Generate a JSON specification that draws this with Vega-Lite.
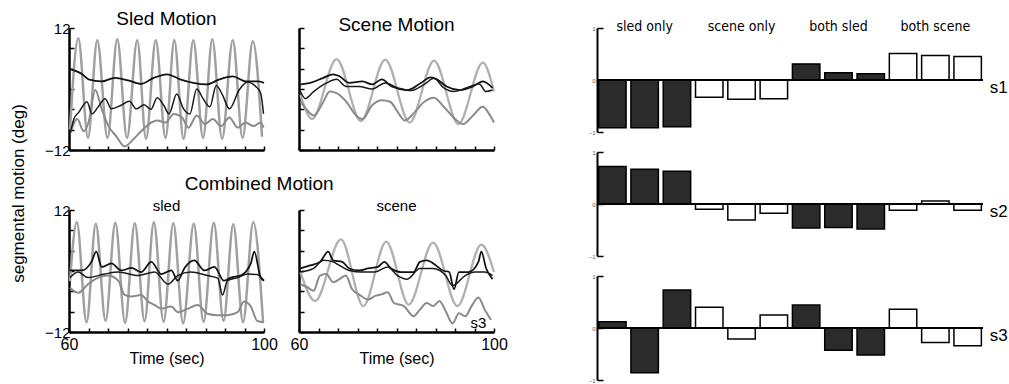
{
"$schema":"https://vega.github.io/schema/vega-lite/v6.json",
"padding":{"left":8,"top":9,"right":5,"bottom":2},
"spacing":80,
"datasets":{
"lines":[
{"p":"A","s":"input","t":60.2,"v":-8.0},{"p":"A","s":"input","t":61.9,"v":10.0},{"p":"A","s":"input","t":63.9,"v":-9.6},{"p":"A","s":"input","t":65.8,"v":9.6},{"p":"A","s":"input","t":67.9,"v":-9.6},{"p":"A","s":"input","t":69.9,"v":9.8},{"p":"A","s":"input","t":71.9,"v":-9.6},{"p":"A","s":"input","t":74.0,"v":9.6},{"p":"A","s":"input","t":75.8,"v":-9.8},{"p":"A","s":"input","t":77.8,"v":9.6},{"p":"A","s":"input","t":79.8,"v":-9.6},{"p":"A","s":"input","t":81.6,"v":9.6},{"p":"A","s":"input","t":83.5,"v":-9.8},{"p":"A","s":"input","t":85.5,"v":9.6},{"p":"A","s":"input","t":87.5,"v":-9.6},{"p":"A","s":"input","t":89.4,"v":9.8},{"p":"A","s":"input","t":91.4,"v":-9.8},{"p":"A","s":"input","t":93.6,"v":9.6},{"p":"A","s":"input","t":95.6,"v":-9.6},{"p":"A","s":"input","t":97.7,"v":9.4},{"p":"A","s":"input","t":99.6,"v":-9.4},
{"p":"A","s":"gray","t":60.3,"v":-8.6},{"p":"A","s":"gray","t":61.7,"v":-5.9},{"p":"A","s":"gray","t":63.0,"v":-8.3},{"p":"A","s":"gray","t":64.0,"v":-6.6},{"p":"A","s":"gray","t":65.4,"v":-0.2},{"p":"A","s":"gray","t":66.7,"v":-3.9},{"p":"A","s":"gray","t":68.1,"v":-7.3},{"p":"A","s":"gray","t":69.7,"v":-9.3},{"p":"A","s":"gray","t":71.4,"v":-11.3},{"p":"A","s":"gray","t":73.1,"v":-10.0},{"p":"A","s":"gray","t":74.8,"v":-8.3},{"p":"A","s":"gray","t":76.4,"v":-6.9},{"p":"A","s":"gray","t":78.1,"v":-6.2},{"p":"A","s":"gray","t":79.8,"v":-6.6},{"p":"A","s":"gray","t":81.5,"v":-4.9},{"p":"A","s":"gray","t":83.2,"v":-5.6},{"p":"A","s":"gray","t":84.5,"v":-7.6},{"p":"A","s":"gray","t":86.2,"v":-5.2},{"p":"A","s":"gray","t":87.9,"v":-6.9},{"p":"A","s":"gray","t":89.5,"v":-5.9},{"p":"A","s":"gray","t":91.2,"v":-7.3},{"p":"A","s":"gray","t":92.9,"v":-5.6},{"p":"A","s":"gray","t":94.6,"v":-7.6},{"p":"A","s":"gray","t":96.2,"v":-6.6},{"p":"A","s":"gray","t":97.9,"v":-7.3},{"p":"A","s":"gray","t":99.3,"v":-6.6},{"p":"A","s":"gray","t":99.9,"v":-7.6},
{"p":"A","s":"black1","t":60.3,"v":3.9},{"p":"A","s":"black1","t":62.7,"v":2.9},{"p":"A","s":"black1","t":64.0,"v":1.9},{"p":"A","s":"black1","t":66.7,"v":1.5},{"p":"A","s":"black1","t":69.4,"v":2.2},{"p":"A","s":"black1","t":72.1,"v":1.7},{"p":"A","s":"black1","t":74.8,"v":1.0},{"p":"A","s":"black1","t":77.4,"v":2.2},{"p":"A","s":"black1","t":80.1,"v":2.9},{"p":"A","s":"black1","t":82.8,"v":1.9},{"p":"A","s":"black1","t":85.5,"v":1.2},{"p":"A","s":"black1","t":88.2,"v":0.9},{"p":"A","s":"black1","t":90.9,"v":1.9},{"p":"A","s":"black1","t":93.6,"v":2.5},{"p":"A","s":"black1","t":96.2,"v":1.5},{"p":"A","s":"black1","t":98.9,"v":1.5},{"p":"A","s":"black1","t":100,"v":1.2},
{"p":"A","s":"black2","t":60.3,"v":-8.6},{"p":"A","s":"black2","t":61.0,"v":-5.9},{"p":"A","s":"black2","t":62.0,"v":-4.6},{"p":"A","s":"black2","t":63.7,"v":-2.5},{"p":"A","s":"black2","t":64.7,"v":-4.9},{"p":"A","s":"black2","t":66.0,"v":-3.5},{"p":"A","s":"black2","t":67.4,"v":-1.9},{"p":"A","s":"black2","t":68.7,"v":-3.9},{"p":"A","s":"black2","t":70.7,"v":-3.2},{"p":"A","s":"black2","t":72.4,"v":-2.4},{"p":"A","s":"black2","t":73.8,"v":-3.9},{"p":"A","s":"black2","t":75.4,"v":-3.1},{"p":"A","s":"black2","t":76.8,"v":-4.0},{"p":"A","s":"black2","t":78.1,"v":-1.7},{"p":"A","s":"black2","t":79.5,"v":-3.3},{"p":"A","s":"black2","t":80.5,"v":-4.9},{"p":"A","s":"black2","t":82.1,"v":-1.0},{"p":"A","s":"black2","t":83.5,"v":-3.9},{"p":"A","s":"black2","t":84.8,"v":-4.9},{"p":"A","s":"black2","t":86.2,"v":0.0},{"p":"A","s":"black2","t":87.5,"v":-1.9},{"p":"A","s":"black2","t":88.9,"v":-3.5},{"p":"A","s":"black2","t":90.2,"v":0.7},{"p":"A","s":"black2","t":91.5,"v":-1.2},{"p":"A","s":"black2","t":92.9,"v":-3.9},{"p":"A","s":"black2","t":94.9,"v":-0.2},{"p":"A","s":"black2","t":96.6,"v":1.4},{"p":"A","s":"black2","t":98.3,"v":0.5},{"p":"A","s":"black2","t":99.3,"v":-0.8},{"p":"A","s":"black2","t":99.9,"v":-4.9},
{"p":"B","s":"input2","t":60.3,"v":-1.2},{"p":"B","s":"input2","t":62.7,"v":-5.9},{"p":"B","s":"input2","t":67.7,"v":5.9},{"p":"B","s":"input2","t":72.7,"v":-6.3},{"p":"B","s":"input2","t":77.7,"v":5.8},{"p":"B","s":"input2","t":82.7,"v":-6.6},{"p":"B","s":"input2","t":87.7,"v":5.6},{"p":"B","s":"input2","t":92.7,"v":-6.9},{"p":"B","s":"input2","t":97.7,"v":5.2},{"p":"B","s":"input2","t":100,"v":-0.5},
{"p":"B","s":"gray","t":60.3,"v":-2.5},{"p":"B","s":"gray","t":61.7,"v":-4.2},{"p":"B","s":"gray","t":63.0,"v":-5.2},{"p":"B","s":"gray","t":65.0,"v":-2.5},{"p":"B","s":"gray","t":66.3,"v":-0.5},{"p":"B","s":"gray","t":67.7,"v":-0.8},{"p":"B","s":"gray","t":69.7,"v":-2.5},{"p":"B","s":"gray","t":71.7,"v":-5.2},{"p":"B","s":"gray","t":73.0,"v":-5.9},{"p":"B","s":"gray","t":75.0,"v":-3.2},{"p":"B","s":"gray","t":77.0,"v":-2.2},{"p":"B","s":"gray","t":78.7,"v":-2.5},{"p":"B","s":"gray","t":80.3,"v":-4.6},{"p":"B","s":"gray","t":81.7,"v":-6.2},{"p":"B","s":"gray","t":83.7,"v":-4.6},{"p":"B","s":"gray","t":85.7,"v":-2.5},{"p":"B","s":"gray","t":87.7,"v":-1.7},{"p":"B","s":"gray","t":89.7,"v":-3.5},{"p":"B","s":"gray","t":91.7,"v":-5.6},{"p":"B","s":"gray","t":93.7,"v":-6.9},{"p":"B","s":"gray","t":95.7,"v":-5.2},{"p":"B","s":"gray","t":97.7,"v":-3.5},{"p":"B","s":"gray","t":99.0,"v":-4.9},{"p":"B","s":"gray","t":100,"v":-6.6},
{"p":"B","s":"black1","t":60.3,"v":0.9},{"p":"B","s":"black1","t":62.3,"v":1.2},{"p":"B","s":"black1","t":65.0,"v":2.2},{"p":"B","s":"black1","t":67.0,"v":2.9},{"p":"B","s":"black1","t":68.3,"v":2.5},{"p":"B","s":"black1","t":70.3,"v":1.2},{"p":"B","s":"black1","t":73.0,"v":1.5},{"p":"B","s":"black1","t":75.0,"v":0.9},{"p":"B","s":"black1","t":77.0,"v":1.9},{"p":"B","s":"black1","t":79.0,"v":0.5},{"p":"B","s":"black1","t":82.3,"v":-0.2},{"p":"B","s":"black1","t":85.0,"v":1.2},{"p":"B","s":"black1","t":87.0,"v":2.3},{"p":"B","s":"black1","t":88.3,"v":1.9},{"p":"B","s":"black1","t":90.3,"v":0.5},{"p":"B","s":"black1","t":93.0,"v":-0.2},{"p":"B","s":"black1","t":95.7,"v":0.5},{"p":"B","s":"black1","t":97.7,"v":1.5},{"p":"B","s":"black1","t":99.7,"v":0.2},
{"p":"B","s":"black2","t":60.3,"v":-0.5},{"p":"B","s":"black2","t":61.3,"v":-1.9},{"p":"B","s":"black2","t":63.0,"v":-0.5},{"p":"B","s":"black2","t":65.7,"v":1.2},{"p":"B","s":"black2","t":67.7,"v":1.9},{"p":"B","s":"black2","t":69.7,"v":0.5},{"p":"B","s":"black2","t":72.3,"v":0.5},{"p":"B","s":"black2","t":75.0,"v":0.0},{"p":"B","s":"black2","t":77.7,"v":1.2},{"p":"B","s":"black2","t":80.3,"v":0.2},{"p":"B","s":"black2","t":83.0,"v":-0.3},{"p":"B","s":"black2","t":85.7,"v":0.9},{"p":"B","s":"black2","t":87.7,"v":2.1},{"p":"B","s":"black2","t":89.7,"v":0.2},{"p":"B","s":"black2","t":91.7,"v":-0.5},{"p":"B","s":"black2","t":94.3,"v":0.2},{"p":"B","s":"black2","t":97.0,"v":1.0},{"p":"B","s":"black2","t":98.3,"v":-0.5},{"p":"B","s":"black2","t":99.7,"v":-0.2},
{"p":"C","s":"input","t":60.2,"v":-2.0},{"p":"C","s":"input","t":61.6,"v":9.6},{"p":"C","s":"input","t":63.6,"v":-10.1},{"p":"C","s":"input","t":65.5,"v":9.3},{"p":"C","s":"input","t":67.5,"v":-9.8},{"p":"C","s":"input","t":69.5,"v":9.5},{"p":"C","s":"input","t":71.5,"v":-10.2},{"p":"C","s":"input","t":73.5,"v":9.4},{"p":"C","s":"input","t":75.5,"v":-9.9},{"p":"C","s":"input","t":77.4,"v":9.6},{"p":"C","s":"input","t":79.4,"v":-10.0},{"p":"C","s":"input","t":81.4,"v":9.4},{"p":"C","s":"input","t":83.4,"v":-10.3},{"p":"C","s":"input","t":85.6,"v":9.3},{"p":"C","s":"input","t":87.6,"v":-10.0},{"p":"C","s":"input","t":89.7,"v":9.5},{"p":"C","s":"input","t":91.7,"v":-9.8},{"p":"C","s":"input","t":93.7,"v":9.2},{"p":"C","s":"input","t":95.7,"v":-10.1},{"p":"C","s":"input","t":97.8,"v":9.6},{"p":"C","s":"input","t":99.8,"v":-10.0},
{"p":"C","s":"gray","t":60.2,"v":-3.3},{"p":"C","s":"gray","t":61.9,"v":-4.3},{"p":"C","s":"gray","t":63.9,"v":-2.6},{"p":"C","s":"gray","t":66.0,"v":-1.3},{"p":"C","s":"gray","t":68.0,"v":-0.9},{"p":"C","s":"gray","t":70.1,"v":-1.9},{"p":"C","s":"gray","t":71.4,"v":-4.7},{"p":"C","s":"gray","t":72.8,"v":-5.0},{"p":"C","s":"gray","t":74.8,"v":-4.7},{"p":"C","s":"gray","t":76.2,"v":-6.0},{"p":"C","s":"gray","t":77.6,"v":-6.7},{"p":"C","s":"gray","t":78.9,"v":-7.4},{"p":"C","s":"gray","t":81.0,"v":-7.0},{"p":"C","s":"gray","t":82.3,"v":-8.1},{"p":"C","s":"gray","t":84.4,"v":-7.4},{"p":"C","s":"gray","t":86.4,"v":-6.7},{"p":"C","s":"gray","t":88.4,"v":-8.4},{"p":"C","s":"gray","t":90.5,"v":-8.7},{"p":"C","s":"gray","t":92.5,"v":-8.7},{"p":"C","s":"gray","t":94.6,"v":-8.1},{"p":"C","s":"gray","t":95.9,"v":-6.0},{"p":"C","s":"gray","t":97.3,"v":-7.0},{"p":"C","s":"gray","t":98.6,"v":-9.8},{"p":"C","s":"gray","t":100,"v":-10.1},
{"p":"C","s":"black1","t":60.2,"v":0.1},{"p":"C","s":"black1","t":62.6,"v":0.1},{"p":"C","s":"black1","t":64.6,"v":1.8},{"p":"C","s":"black1","t":65.6,"v":3.8},{"p":"C","s":"black1","t":66.7,"v":0.8},{"p":"C","s":"black1","t":68.7,"v":1.5},{"p":"C","s":"black1","t":70.7,"v":0.1},{"p":"C","s":"black1","t":72.8,"v":0.6},{"p":"C","s":"black1","t":74.8,"v":-0.2},{"p":"C","s":"black1","t":76.9,"v":1.8},{"p":"C","s":"black1","t":78.9,"v":-0.6},{"p":"C","s":"black1","t":81.0,"v":0.1},{"p":"C","s":"black1","t":82.3,"v":-1.9},{"p":"C","s":"black1","t":83.7,"v":0.6},{"p":"C","s":"black1","t":85.7,"v":2.1},{"p":"C","s":"black1","t":87.8,"v":0.1},{"p":"C","s":"black1","t":89.8,"v":0.8},{"p":"C","s":"black1","t":91.8,"v":-1.9},{"p":"C","s":"black1","t":93.2,"v":-1.3},{"p":"C","s":"black1","t":95.2,"v":-0.9},{"p":"C","s":"black1","t":97.3,"v":1.5},{"p":"C","s":"black1","t":98.0,"v":3.8},{"p":"C","s":"black1","t":99.3,"v":-1.3},{"p":"C","s":"black1","t":100,"v":-1.9},
{"p":"C","s":"black2","t":60.2,"v":-1.3},{"p":"C","s":"black2","t":61.9,"v":-0.2},{"p":"C","s":"black2","t":63.9,"v":-1.3},{"p":"C","s":"black2","t":67.3,"v":-0.6},{"p":"C","s":"black2","t":70.1,"v":-0.2},{"p":"C","s":"black2","t":74.1,"v":-0.9},{"p":"C","s":"black2","t":77.6,"v":-0.2},{"p":"C","s":"black2","t":80.3,"v":-2.6},{"p":"C","s":"black2","t":82.3,"v":-0.9},{"p":"C","s":"black2","t":85.0,"v":-0.2},{"p":"C","s":"black2","t":88.4,"v":-0.9},{"p":"C","s":"black2","t":90.5,"v":-1.4},{"p":"C","s":"black2","t":91.5,"v":-4.7},{"p":"C","s":"black2","t":92.5,"v":-1.9},{"p":"C","s":"black2","t":94.6,"v":-1.3},{"p":"C","s":"black2","t":96.6,"v":-0.6},{"p":"C","s":"black2","t":98.6,"v":-0.7},{"p":"C","s":"black2","t":100,"v":-1.9},
{"p":"D","s":"input2","t":60.3,"v":-0.2},{"p":"D","s":"input2","t":63.3,"v":-5.9},{"p":"D","s":"input2","t":68.6,"v":6.2},{"p":"D","s":"input2","t":73.2,"v":-6.9},{"p":"D","s":"input2","t":77.9,"v":5.8},{"p":"D","s":"input2","t":82.5,"v":-6.6},{"p":"D","s":"input2","t":87.5,"v":5.6},{"p":"D","s":"input2","t":92.5,"v":-6.9},{"p":"D","s":"input2","t":97.4,"v":5.2},{"p":"D","s":"input2","t":100,"v":-0.2},
{"p":"D","s":"gray","t":60.3,"v":-2.6},{"p":"D","s":"gray","t":61.7,"v":-3.2},{"p":"D","s":"gray","t":63.0,"v":-3.9},{"p":"D","s":"gray","t":64.3,"v":-0.9},{"p":"D","s":"gray","t":65.6,"v":-0.6},{"p":"D","s":"gray","t":67.0,"v":-2.2},{"p":"D","s":"gray","t":68.3,"v":-1.6},{"p":"D","s":"gray","t":69.6,"v":-0.9},{"p":"D","s":"gray","t":70.9,"v":-3.6},{"p":"D","s":"gray","t":72.3,"v":-4.6},{"p":"D","s":"gray","t":74.2,"v":-5.6},{"p":"D","s":"gray","t":75.6,"v":-4.9},{"p":"D","s":"gray","t":76.9,"v":-4.6},{"p":"D","s":"gray","t":78.2,"v":-4.2},{"p":"D","s":"gray","t":79.5,"v":-6.3},{"p":"D","s":"gray","t":81.5,"v":-6.9},{"p":"D","s":"gray","t":83.5,"v":-8.9},{"p":"D","s":"gray","t":84.8,"v":-7.6},{"p":"D","s":"gray","t":86.2,"v":-6.3},{"p":"D","s":"gray","t":87.5,"v":-6.9},{"p":"D","s":"gray","t":88.8,"v":-5.9},{"p":"D","s":"gray","t":90.1,"v":-7.9},{"p":"D","s":"gray","t":91.5,"v":-10.3},{"p":"D","s":"gray","t":92.8,"v":-8.3},{"p":"D","s":"gray","t":94.1,"v":-8.9},{"p":"D","s":"gray","t":95.4,"v":-6.9},{"p":"D","s":"gray","t":96.8,"v":-5.2},{"p":"D","s":"gray","t":98.1,"v":-7.6},{"p":"D","s":"gray","t":99.4,"v":-9.6},
{"p":"D","s":"black1","t":60.3,"v":0.5},{"p":"D","s":"black1","t":62.3,"v":1.1},{"p":"D","s":"black1","t":64.3,"v":1.8},{"p":"D","s":"black1","t":66.0,"v":3.8},{"p":"D","s":"black1","t":67.0,"v":2.1},{"p":"D","s":"black1","t":68.9,"v":1.8},{"p":"D","s":"black1","t":70.3,"v":0.5},{"p":"D","s":"black1","t":72.3,"v":0.1},{"p":"D","s":"black1","t":74.2,"v":0.5},{"p":"D","s":"black1","t":76.2,"v":0.8},{"p":"D","s":"black1","t":77.5,"v":1.8},{"p":"D","s":"black1","t":78.9,"v":0.5},{"p":"D","s":"black1","t":80.9,"v":-0.2},{"p":"D","s":"black1","t":83.5,"v":-0.2},{"p":"D","s":"black1","t":84.8,"v":1.8},{"p":"D","s":"black1","t":86.2,"v":2.1},{"p":"D","s":"black1","t":88.1,"v":1.1},{"p":"D","s":"black1","t":89.5,"v":0.1},{"p":"D","s":"black1","t":90.8,"v":-0.2},{"p":"D","s":"black1","t":91.8,"v":-3.6},{"p":"D","s":"black1","t":92.8,"v":-0.2},{"p":"D","s":"black1","t":94.8,"v":-0.2},{"p":"D","s":"black1","t":96.8,"v":1.8},{"p":"D","s":"black1","t":97.4,"v":3.8},{"p":"D","s":"black1","t":98.4,"v":0.5},{"p":"D","s":"black1","t":99.7,"v":-1.6},
{"p":"D","s":"black2","t":60.3,"v":-0.2},{"p":"D","s":"black2","t":63.0,"v":0.5},{"p":"D","s":"black2","t":65.0,"v":2.1},{"p":"D","s":"black2","t":67.0,"v":1.8},{"p":"D","s":"black2","t":68.3,"v":1.1},{"p":"D","s":"black2","t":70.3,"v":0.1},{"p":"D","s":"black2","t":72.9,"v":-0.2},{"p":"D","s":"black2","t":75.6,"v":-0.2},{"p":"D","s":"black2","t":78.2,"v":0.8},{"p":"D","s":"black2","t":80.2,"v":-0.9},{"p":"D","s":"black2","t":82.2,"v":-1.6},{"p":"D","s":"black2","t":84.8,"v":0.5},{"p":"D","s":"black2","t":87.5,"v":0.5},{"p":"D","s":"black2","t":90.1,"v":-0.9},{"p":"D","s":"black2","t":91.5,"v":-2.9},{"p":"D","s":"black2","t":94.1,"v":-0.9},{"p":"D","s":"black2","t":96.1,"v":-0.2},{"p":"D","s":"black2","t":98.1,"v":-0.2},{"p":"D","s":"black2","t":99.7,"v":-0.9}
],
"bars":[
{"s":"s1","k":1,"type":"sled","v":-0.92},{"s":"s1","k":2,"type":"sled","v":-0.92},{"s":"s1","k":3,"type":"sled","v":-0.9},{"s":"s1","k":4,"type":"scene","v":-0.33},{"s":"s1","k":5,"type":"scene","v":-0.37},{"s":"s1","k":6,"type":"scene","v":-0.36},{"s":"s1","k":7,"type":"sled","v":0.31},{"s":"s1","k":8,"type":"sled","v":0.14},{"s":"s1","k":9,"type":"sled","v":0.12},{"s":"s1","k":10,"type":"scene","v":0.51},{"s":"s1","k":11,"type":"scene","v":0.47},{"s":"s1","k":12,"type":"scene","v":0.45},
{"s":"s2","k":1,"type":"sled","v":0.72},{"s":"s2","k":2,"type":"sled","v":0.67},{"s":"s2","k":3,"type":"sled","v":0.63},{"s":"s2","k":4,"type":"scene","v":-0.1},{"s":"s2","k":5,"type":"scene","v":-0.31},{"s":"s2","k":6,"type":"scene","v":-0.18},{"s":"s2","k":7,"type":"sled","v":-0.46},{"s":"s2","k":8,"type":"sled","v":-0.45},{"s":"s2","k":9,"type":"sled","v":-0.48},{"s":"s2","k":10,"type":"scene","v":-0.12},{"s":"s2","k":11,"type":"scene","v":0.06},{"s":"s2","k":12,"type":"scene","v":-0.12},
{"s":"s3","k":1,"type":"sled","v":0.12},{"s":"s3","k":2,"type":"sled","v":-0.86},{"s":"s3","k":3,"type":"sled","v":0.73},{"s":"s3","k":4,"type":"scene","v":0.4},{"s":"s3","k":5,"type":"scene","v":-0.21},{"s":"s3","k":6,"type":"scene","v":0.25},{"s":"s3","k":7,"type":"sled","v":0.44},{"s":"s3","k":8,"type":"sled","v":-0.43},{"s":"s3","k":9,"type":"sled","v":-0.52},{"s":"s3","k":10,"type":"scene","v":0.36},{"s":"s3","k":11,"type":"scene","v":-0.28},{"s":"s3","k":12,"type":"scene","v":-0.34}
]
},
"hconcat":[
{"columns":2,"bounds":"flush","spacing":{"row":60,"column":35},
 "concat":[
  {"width":195,"height":122,"title":{"text":"Sled Motion","fontSize":19,"offset":-8,"frame":"group"},
   "data":{"name":"lines"},"transform":[{"filter":"datum.p==='A'"}],
   "mark":{"type":"line","interpolate":"monotone"},
   "encoding":{
    "x":{"field":"t","type":"quantitative","scale":{"domain":[60,100],"nice":false,"zero":false},"axis":{"values":[60,64,68,72,76,80,84,88,92,96,100],"labels":false,"tickSize":-4,"title":null}},
    "y":{"field":"v","type":"quantitative","scale":{"domain":[-12,12],"nice":false},"axis":{"values":[-12,-8,-4,0,4,8,12],"labelExpr":"datum.value===12||datum.value===-12?datum.label:''","labelOverlap":false,"labelFlush":false,"tickSize":-5,"labelPadding":4,"labelFontSize":15,"title":null}},
    "color":{"field":"s","type":"nominal","scale":{"domain":["input","input2","gray","black1","black2"],"range":["#a0a0a0","#b0b0b0","#8a8a8a","#111111","#1a1a1a"]},"legend":null},
    "size":{"field":"s","type":"nominal","scale":{"domain":["input","input2","gray","black1","black2"],"range":[2.5,1.5,4.5,2.2,2.2]},"legend":null}}},
  {"width":195,"height":122,"title":{"text":"Scene Motion","fontSize":19,"offset":-8,"frame":"group"},
   "data":{"name":"lines"},"transform":[{"filter":"datum.p==='B'"}],
   "mark":{"type":"line","interpolate":"monotone"},
   "encoding":{
    "x":{"field":"t","type":"quantitative","scale":{"domain":[60,100],"nice":false,"zero":false},"axis":{"values":[60,64,68,72,76,80,84,88,92,96,100],"labels":false,"tickSize":-4,"title":null}},
    "y":{"field":"v","type":"quantitative","scale":{"domain":[-12,12],"nice":false},"axis":{"values":[-12,-8,-4,0,4,8,12],"labels":false,"tickSize":-5,"title":null}},
    "color":{"field":"s","type":"nominal","scale":{"domain":["input","input2","gray","black1","black2"],"range":["#a0a0a0","#b0b0b0","#8a8a8a","#111111","#1a1a1a"]},"legend":null},
    "size":{"field":"s","type":"nominal","scale":{"domain":["input","input2","gray","black1","black2"],"range":[2.5,1.5,4.5,2.2,2.2]},"legend":null}}},
  {"width":195,"height":122,
   "encoding":{
    "x":{"field":"t","type":"quantitative","scale":{"domain":[60,100],"nice":false,"zero":false},"axis":{"values":[60,64,68,72,76,80,84,88,92,96,100],"labelExpr":"datum.value<61||datum.value>99?datum.label:''","labelOverlap":false,"labelFlush":false,"labelBound":false,"labelFontSize":16,"labelPadding":8,"tickSize":-4,"title":"Time (sec)","titleFontSize":16,"titlePadding":-2}},
    "y":{"field":"v","type":"quantitative","scale":{"domain":[-12,12],"nice":false},"axis":{"values":[-12,-8,-4,0,4,8,12],"labelExpr":"datum.value===12||datum.value===-12?datum.label:''","labelOverlap":false,"labelFlush":false,"tickSize":-5,"labelPadding":4,"labelFontSize":15,"title":"segmental motion (deg)","titleFontSize":17,"titleAngle":-90,"titleX":-51,"titleY":-17,"titleAlign":"center","titleBaseline":"middle"}}},
   "layer":[
   {"data":{"name":"lines"},"transform":[{"filter":"datum.p==='C'"}],
   "mark":{"type":"line","interpolate":"monotone"},
   "encoding":{
    "color":{"field":"s","type":"nominal","scale":{"domain":["input","input2","gray","black1","black2"],"range":["#a0a0a0","#b0b0b0","#8a8a8a","#111111","#1a1a1a"]},"legend":null},
    "size":{"field":"s","type":"nominal","scale":{"domain":["input","input2","gray","black1","black2"],"range":[2.5,1.5,4.5,2.2,2.2]},"legend":null}}},
   {"data":{"values":[{"t":80,"v":12,"lab":"sled"}]},
    "mark":{"type":"text","fontSize":15,"align":"center","baseline":"alphabetic","dy":1},
    "encoding":{"text":{"field":"lab"}}},
   {"data":{"values":[{"t":99,"v":12,"lab":"Combined Motion"}]},
    "mark":{"type":"text","fontSize":19,"align":"center","baseline":"alphabetic","dy":-20},
    "encoding":{"text":{"field":"lab"}}}
   ]},
  {"width":195,"height":122,
   "encoding":{
    "x":{"field":"t","type":"quantitative","scale":{"domain":[60,100],"nice":false,"zero":false},"axis":{"values":[60,64,68,72,76,80,84,88,92,96,100],"labelExpr":"datum.value<61||datum.value>99?datum.label:''","labelOverlap":false,"labelFlush":false,"labelBound":false,"labelFontSize":16,"labelPadding":8,"tickSize":-4,"title":"Time (sec)","titleFontSize":16,"titlePadding":-2}},
    "y":{"field":"v","type":"quantitative","scale":{"domain":[-12,12],"nice":false},"axis":{"values":[-12,-8,-4,0,4,8,12],"labels":false,"tickSize":-5,"title":null}}},
   "layer":[
   {"data":{"name":"lines"},"transform":[{"filter":"datum.p==='D'"}],
   "mark":{"type":"line","interpolate":"monotone"},
   "encoding":{
    "color":{"field":"s","type":"nominal","scale":{"domain":["input","input2","gray","black1","black2"],"range":["#a0a0a0","#b0b0b0","#8a8a8a","#111111","#1a1a1a"]},"legend":null},
    "size":{"field":"s","type":"nominal","scale":{"domain":["input","input2","gray","black1","black2"],"range":[2.5,1.5,4.5,2.2,2.2]},"legend":null}}},
   {"data":{"values":[{"t":80,"v":12,"lab":"scene"},{"t":96.8,"v":-11.0,"lab":"s3"}]},
    "mark":{"type":"text","fontSize":15,"align":"center","baseline":"alphabetic","dy":1},
    "encoding":{"text":{"field":"lab"}}}
   ]}
 ]},
{"vconcat":[
 {"width":386,"height":104,"title":{"text":" ","fontSize":19,"offset":-8,"frame":"group"},
  "layer":[
   {"data":{"name":"bars"},"transform":[{"filter":"datum.s==='s1'"}],
    "mark":{"type":"bar","stroke":"#000","strokeWidth":1.5},
    "encoding":{"x":{"field":"k","type":"ordinal","axis":null,"scale":{"paddingInner":0.15,"paddingOuter":0.05}},
     "y":{"field":"v","type":"quantitative","scale":{"domain":[-1,1],"nice":false},"axis":{"values":[-1,-0.5,0,0.5,1],"format":"~g","tickSize":-6,"labelPadding":8,"labelFontSize":6,"labelColor":"#555","domainWidth":2,"title":null}},
     "fill":{"field":"type","type":"nominal","scale":{"domain":["sled","scene"],"range":["#2b2b2b","#ffffff"]},"legend":null}}},
   {"data":{"values":[{}]},"mark":{"type":"rule","strokeWidth":2,"color":"#000"},"encoding":{"y":{"datum":0}}},
   {"data":{"values":[{"k":12,"lab":"s1"}]},"mark":{"type":"text","fontSize":17,"align":"left","baseline":"middle","dx":22,"dy":8},"encoding":{"x":{"field":"k","type":"ordinal"},"y":{"datum":0},"text":{"field":"lab"}}},
   {"data":{"values":[{"k":2,"lab":"sled only"},{"k":5,"lab":"scene only"},{"k":8,"lab":"both sled"},{"k":11,"lab":"both scene"}]},"mark":{"type":"text","fontSize":14,"font":"Liberation Sans Narrow, DejaVu Sans Condensed, sans-serif","align":"center","baseline":"alphabetic","dy":3},"encoding":{"x":{"field":"k","type":"ordinal"},"y":{"datum":1},"text":{"field":"lab"}}}
  ]},
 {"width":386,"height":104,
  "layer":[
   {"data":{"name":"bars"},"transform":[{"filter":"datum.s==='s2'"}],
    "mark":{"type":"bar","stroke":"#000","strokeWidth":1.5},
    "encoding":{"x":{"field":"k","type":"ordinal","axis":null,"scale":{"paddingInner":0.15,"paddingOuter":0.05}},
     "y":{"field":"v","type":"quantitative","scale":{"domain":[-1,1],"nice":false},"axis":{"values":[-1,-0.5,0,0.5,1],"format":"~g","tickSize":-6,"labelPadding":8,"labelFontSize":6,"labelColor":"#555","domainWidth":2,"title":null}},
     "fill":{"field":"type","type":"nominal","scale":{"domain":["sled","scene"],"range":["#2b2b2b","#ffffff"]},"legend":null}}},
   {"data":{"values":[{}]},"mark":{"type":"rule","strokeWidth":2,"color":"#000"},"encoding":{"y":{"datum":0}}},
   {"data":{"values":[{"k":12,"lab":"s2"}]},"mark":{"type":"text","fontSize":17,"align":"left","baseline":"middle","dx":22,"dy":8},"encoding":{"x":{"field":"k","type":"ordinal"},"y":{"datum":0},"text":{"field":"lab"}}}
  ]},
 {"width":386,"height":104,
  "layer":[
   {"data":{"name":"bars"},"transform":[{"filter":"datum.s==='s3'"}],
    "mark":{"type":"bar","stroke":"#000","strokeWidth":1.5},
    "encoding":{"x":{"field":"k","type":"ordinal","axis":null,"scale":{"paddingInner":0.15,"paddingOuter":0.05}},
     "y":{"field":"v","type":"quantitative","scale":{"domain":[-1,1],"nice":false},"axis":{"values":[-1,-0.5,0,0.5,1],"format":"~g","tickSize":-6,"labelPadding":8,"labelFontSize":6,"labelColor":"#555","domainWidth":2,"title":null}},
     "fill":{"field":"type","type":"nominal","scale":{"domain":["sled","scene"],"range":["#2b2b2b","#ffffff"]},"legend":null}}},
   {"data":{"values":[{}]},"mark":{"type":"rule","strokeWidth":2,"color":"#000"},"encoding":{"y":{"datum":0}}},
   {"data":{"values":[{"k":12,"lab":"s3"}]},"mark":{"type":"text","fontSize":17,"align":"left","baseline":"middle","dx":22,"dy":8},"encoding":{"x":{"field":"k","type":"ordinal"},"y":{"datum":0},"text":{"field":"lab"}}}
  ]}
],"spacing":20,"bounds":"flush"}
],
"config":{
 "font":"Liberation Sans",
 "view":{"stroke":null},
 "axis":{"grid":false,"domainColor":"#000","domainWidth":2.5,"tickColor":"#000","tickWidth":1.5,"labelColor":"#000","titleColor":"#000","titleFontWeight":"normal","labelFont":"Liberation Sans","titleFont":"Liberation Sans"},
 "title":{"fontWeight":"normal","color":"#000","font":"Liberation Sans"}
}
}
